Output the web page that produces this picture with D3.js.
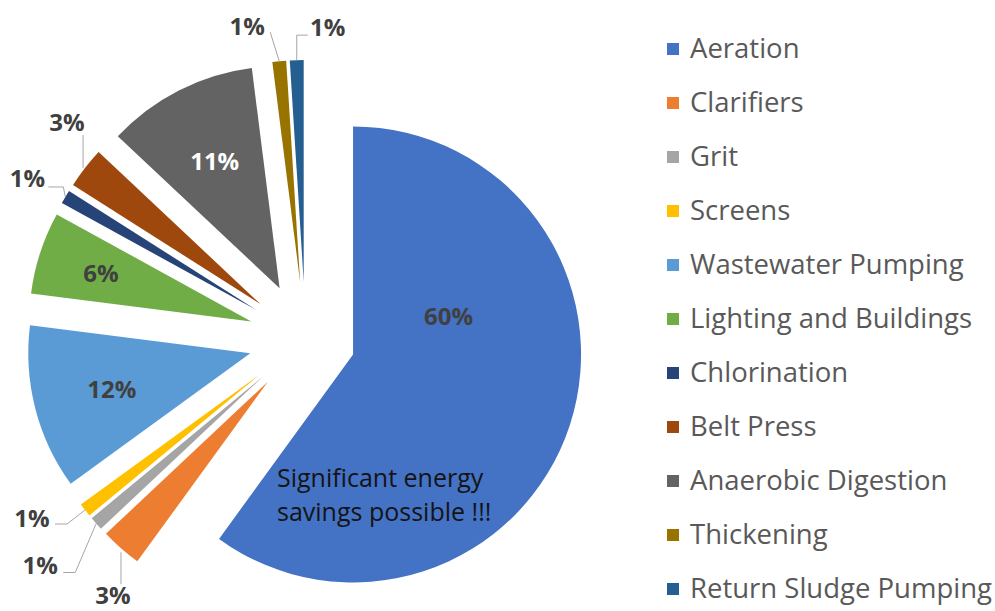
<!DOCTYPE html>
<html>
<head>
<meta charset="utf-8">
<script src="https://cdn.jsdelivr.net/npm/d3@7"></script>
<style>
  body { margin: 0; background: #fff; }
  text { font-family: "Open Sans", sans-serif; }
</style>
</head>
<body>
<svg id="chart"></svg>
<script>
// energy use by process, percent
const categories = [
  "Aeration", "Clarifiers", "Grit", "Screens", "Wastewater Pumping",
  "Lighting and Buildings", "Chlorination", "Belt Press",
  "Anaerobic Digestion", "Thickening", "Return Sludge Pumping"
];
const shares = [60, 3, 1, 1, 12, 6, 1, 3, 11, 1, 1];
const colors = [
  "#4472c4", "#ed7d31", "#a5a5a5", "#ffc000", "#5b9bd5",
  "#70ad47", "#264478", "#9e480e", "#636363", "#997300", "#255e91"
];
const noteLines = ["Significant energy", "savings possible !!!"];

let width = 995, height = 611;
let svg = d3.select("#chart").attr("width", width).attr("height", height);

let cx = 305.5, cy = 339;
let radius = 222, explode = 57;
let mainRadius = 228, mainExplode = 50;

let pie = d3.pie().sort(null).value((d) => d);
let slices = pie(shares);
let color = d3.scaleOrdinal().domain(categories).range(colors);

let mid = (d) => (d.startAngle + d.endAngle) / 2;
let rOf = (i) => (i === 0 ? mainRadius : radius);
let apex = (d, i) => {
  let dist = i === 0 ? mainExplode : explode;
  let a = mid(d);
  return [cx + dist * Math.sin(a), cy - dist * Math.cos(a)];
};
let polar = (p, a, r) => [p[0] + r * Math.sin(a), p[1] - r * Math.cos(a)];

svg
  .selectAll("path.slice")
  .data(slices)
  .enter()
  .append("path")
  .attr("class", "slice")
  .attr("transform", (d, i) => "translate(" + apex(d, i) + ")")
  .attr("d", (d, i) => d3.arc().innerRadius(0).outerRadius(rOf(i))(d))
  .attr("fill", (d, i) => color(categories[i]));

// labels inside the big slices
let deg = Math.PI / 180;
let inside = {
  "Aeration": { angle: 68 * deg, dist: 103, fill: "#404040" },
  "Wastewater Pumping": { dist: 143, fill: "#404040" },
  "Lighting and Buildings": { dist: 158, fill: "#404040" },
  "Anaerobic Digestion": { dist: 143, fill: "#ffffff" }
};

// small slices: leader points and label, relative to the slice's outer tip
let outside = {
  "Clarifiers": { path: [[0, 4], [0, 36]], label: [-8, 46] },
  "Grit": { path: [[0, 0], [-21, 49], [-33, 49]], label: [-56, 41] },
  "Screens": { path: [[0, 0], [-18, 14], [-30, 14]], label: [-53, 7] },
  "Chlorination": { path: [[0, 0], [-2, -10], [-17, -10]], label: [-38, -19] },
  "Belt Press": { path: [[-2, 0], [-2, -33]], label: [-18, -46] },
  "Thickening": { path: [[0, 0], [-9, -29]], label: [-32, -36] },
  "Return Sludge Pumping": { path: [[0, 0], [0, -25], [11, -25]], label: [31, -34] }
};

slices.forEach((d, i) => {
  let name = categories[i];
  let p = apex(d, i);
  let txt = shares[i] + "%";
  if (inside[name]) {
    let o = inside[name];
    let pos = polar(p, o.angle !== undefined ? o.angle : mid(d), o.dist);
    svg.append("text")
      .attr("x", pos[0]).attr("y", pos[1])
      .attr("text-anchor", "middle")
      .attr("dominant-baseline", "central")
      .attr("font-size", 24).attr("font-weight", "bold")
      .attr("fill", o.fill)
      .text(txt);
  } else if (outside[name]) {
    let o = outside[name];
    let tip = polar(p, mid(d), rOf(i));
    let line = d3.line();
    svg.append("path")
      .attr("d", line(o.path.map((q) => [tip[0] + q[0], tip[1] + q[1]])))
      .attr("fill", "none")
      .attr("stroke", "#a6a6a6")
      .attr("stroke-width", 1);
    svg.append("text")
      .attr("x", tip[0] + o.label[0]).attr("y", tip[1] + o.label[1])
      .attr("text-anchor", "middle")
      .attr("dominant-baseline", "central")
      .attr("font-size", 24).attr("font-weight", "bold")
      .attr("fill", "#404040")
      .text(txt);
  }
});

// note inside the aeration slice
svg.append("text")
  .attr("font-size", 25)
  .attr("fill", "#141414")
  .selectAll("tspan")
  .data(noteLines)
  .enter()
  .append("tspan")
  .attr("x", 277)
  .attr("y", (d, i) => 487 + i * 34)
  .text((d) => d);

// legend
let legendY = d3.scalePoint().domain(categories).range([47, 587]);
let legend = svg.selectAll("g.legend")
  .data(categories)
  .enter()
  .append("g")
  .attr("class", "legend")
  .attr("transform", (d) => "translate(667," + legendY(d) + ")");

legend.append("rect")
  .attr("x", 0).attr("y", -4)
  .attr("width", 12).attr("height", 12)
  .attr("fill", (d) => color(d));

legend.append("text")
  .attr("x", 23).attr("y", 0)
  .attr("dominant-baseline", "central")
  .attr("font-size", 27.5)
  .attr("fill", "#595959")
  .text((d) => d);
</script>
</body>
</html>
